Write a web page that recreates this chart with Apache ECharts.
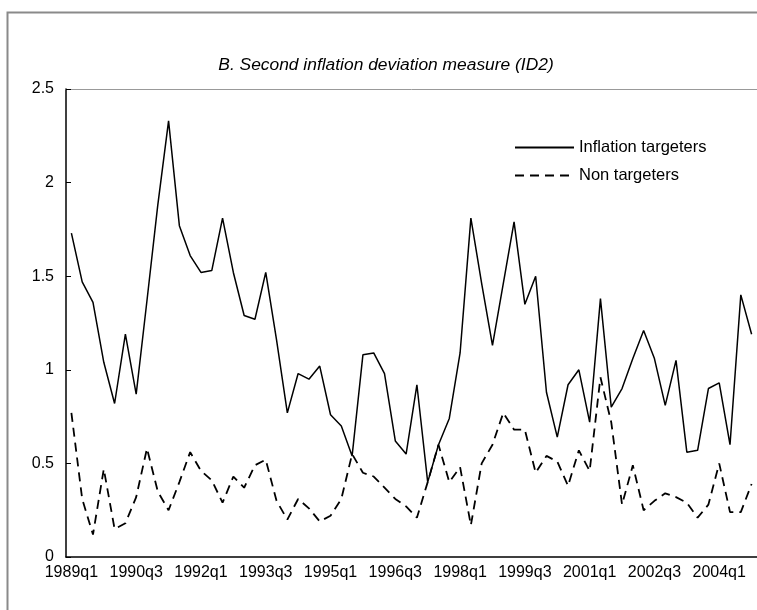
<!DOCTYPE html>
<html>
<head>
<meta charset="utf-8">
<script src="https://cdn.jsdelivr.net/npm/echarts@6/dist/echarts.min.js"></script>
<style>
  html, body { margin: 0; padding: 0; background: #fff; }
  #chart { width: 757px; height: 610px; }
</style>
</head>
<body>
<div id="chart"></div>
<script>
  // quarters 1989q1 .. 2004q4
  var quarters = [];
  for (var y = 1989; y <= 2004; y++) {
    for (var q = 1; q <= 4; q++) quarters.push(y + 'q' + q);
  }

  var inflationTargeters = [1.73, 1.47, 1.36, 1.04, 0.82, 1.19, 0.87, 1.37, 1.88, 2.33,
    1.77, 1.61, 1.52, 1.53, 1.81, 1.52, 1.29, 1.27, 1.52, 1.16,
    0.77, 0.98, 0.95, 1.02, 0.76, 0.70, 0.54, 1.08, 1.09, 0.98,
    0.62, 0.55, 0.92, 0.40, 0.60, 0.74, 1.09, 1.81, 1.46, 1.13,
    1.46, 1.79, 1.35, 1.50, 0.88, 0.64, 0.92, 1.00, 0.72, 1.38,
    0.80, 0.90, 1.06, 1.21, 1.06, 0.81, 1.05, 0.56, 0.57, 0.90,
    0.93, 0.60, 1.40, 1.19];

  var nonTargeters = [0.77, 0.31, 0.12, 0.47, 0.15, 0.18, 0.32, 0.58, 0.35, 0.25,
    0.40, 0.56, 0.46, 0.41, 0.29, 0.43, 0.37, 0.49, 0.52, 0.30,
    0.20, 0.31, 0.26, 0.19, 0.22, 0.31, 0.55, 0.45, 0.43, 0.37,
    0.31, 0.27, 0.21, 0.40, 0.60, 0.40, 0.48, 0.17, 0.50, 0.60,
    0.77, 0.68, 0.68, 0.45, 0.54, 0.51, 0.38, 0.57, 0.46, 0.96,
    0.72, 0.28, 0.49, 0.25, 0.30, 0.34, 0.32, 0.29, 0.21, 0.28,
    0.50, 0.24, 0.24, 0.39];

  var font = '"Liberation Sans", Arial, sans-serif';

  var chart = echarts.init(document.getElementById('chart'));
  chart.setOption({
    animation: false,
    backgroundColor: '#fff',
    title: {
      text: 'B. Second inflation deviation measure (ID2)',
      left: 381,
      top: 52,
      textAlign: 'center',
      textStyle: { fontFamily: font, fontSize: 17.4, fontStyle: 'italic', fontWeight: 'normal', color: '#000' }
    },
    // outer chart frame
    graphic: [{
      type: 'rect',
      shape: { x: 7.5, y: 12.5, width: 800, height: 700 },
      style: { fill: 'none', stroke: '#8a8a8a', lineWidth: 2 },
      silent: true
    }],
    legend: {
      orient: 'vertical',
      left: 514,
      top: 139,
      padding: 0,
      itemWidth: 59,
      itemHeight: 16,
      itemGap: 11,
      itemStyle: { opacity: 0 },
      textStyle: { fontFamily: font, fontSize: 16.5, color: '#000' },
      data: ['Inflation targeters', 'Non targeters']
    },
    grid: { left: 66, right: 0, top: 89, bottom: 53 },
    xAxis: [{
      type: 'category',
      data: quarters,
      boundaryGap: true,
      axisLine: { lineStyle: { color: '#000', width: 1.5 } },
      axisTick: { inside: true, length: 5, interval: 0, lineStyle: { color: '#000' } },
      axisLabel: { interval: 5, margin: 8, fontFamily: font, fontSize: 16, color: '#000' },
      splitLine: { show: false }
    }, {
      // plot area top border
      type: 'category',
      position: 'top',
      data: quarters,
      axisLine: { lineStyle: { color: '#999', width: 1 } },
      axisTick: { show: false },
      axisLabel: { show: false },
      splitLine: { show: false }
    }],
    yAxis: {
      type: 'value',
      min: 0, max: 2.5, interval: 0.5,
      axisLine: { show: true, lineStyle: { color: '#000', width: 1.5 } },
      axisTick: { show: true, inside: true, length: 5, lineStyle: { color: '#000' } },
      axisLabel: { margin: 12, fontFamily: font, fontSize: 16, color: '#000' },
      splitLine: { show: false }
    },
    series: [{
      name: 'Inflation targeters',
      type: 'line',
      data: inflationTargeters,
      symbol: 'none',
      lineStyle: { color: '#000', width: 1.5 },
      itemStyle: { color: '#000' }
    }, {
      name: 'Non targeters',
      type: 'line',
      data: nonTargeters,
      symbol: 'none',
      lineStyle: { color: '#000', width: 1.8, type: [9, 6] },
      itemStyle: { color: '#000' }
    }]
  });
</script>
</body>
</html>
